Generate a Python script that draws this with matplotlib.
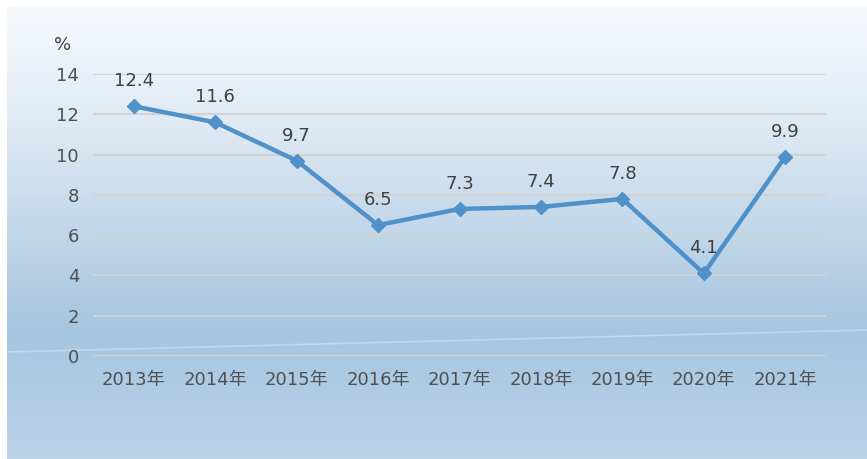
import numpy as np
import matplotlib.pyplot as plt
from matplotlib.colors import LinearSegmentedColormap

plt.rcParams['font.family'] = ['DejaVu Sans', 'Noto Sans CJK SC']

years = ["2013年", "2014年", "2015年", "2016年", "2017年", "2018年", "2019年", "2020年", "2021年"]
growth = [12.4, 11.6, 9.7, 6.5, 7.3, 7.4, 7.8, 4.1, 9.9]
yticks = [0, 2, 4, 6, 8, 10, 12, 14]

fig = plt.figure(figsize=(8.67, 4.59), dpi=100)

# gradient background panel
bg = fig.add_axes([7 / 867, 0, 1 - 7 / 867, 1 - 7 / 459], zorder=-10)
cmap = LinearSegmentedColormap.from_list(
    "bg", [(0.0, "#f6f9fc"), (0.25, "#e0eaf4"), (0.72, "#a6c5e0"), (1.0, "#bad4ea")])
grad = np.linspace(0, 1, 256).reshape(-1, 1)
bg.imshow(grad, aspect="auto", cmap=cmap, extent=[0, 1, 0, 1], origin="upper")
bg.plot([0, 1], [(459 - 352) / 452, (459 - 330) / 452], color="white", lw=1.2, alpha=0.3)
bg.set_xlim(0, 1)
bg.set_ylim(0, 1)
bg.axis("off")

ax = fig.add_axes([93 / 867, 103 / 459, (826 - 93) / 867, (356 - 74) / 459])
ax.patch.set_alpha(0)
x = np.arange(len(years))
ax.plot(x, growth, color="#5091ca", lw=3.2, marker="D", markersize=7, zorder=3)
for xi, v in zip(x, growth):
    ax.annotate(f"{v}", (xi, v), xytext=(0, 18), textcoords="offset points",
                ha="center", va="center", fontsize=13, color="#404040")

ax.set_xlim(-0.5, len(years) - 0.5)
ax.set_ylim(0, 14)
ax.set_yticks(yticks)
ax.set_xticks(x)
ax.set_xticklabels(years)
ax.grid(axis="y", color="#d2d2d4", lw=1.5)
ax.set_axisbelow(True)
for s in ax.spines.values():
    s.set_visible(False)
ax.tick_params(axis="both", length=0, labelsize=13, colors="#505050")
ax.tick_params(axis="x", pad=11, labelsize=13)
ax.tick_params(axis="y", pad=10)
fig.text(63 / 867, 1 - 45 / 459, "%", fontsize=13, color="#404040", ha="center", va="center")

fig.savefig("out.png", dpi=100, facecolor="white")
